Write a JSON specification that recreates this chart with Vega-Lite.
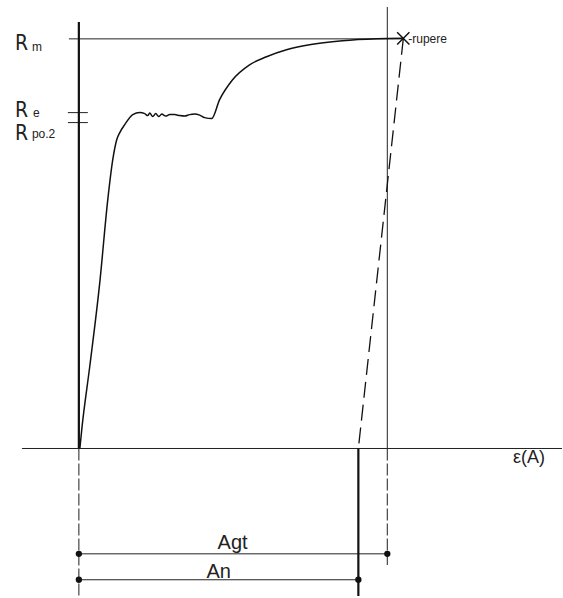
{
  "$schema": "https://vega.github.io/schema/vega-lite/v6.json",
  "width": 563,
  "height": 598,
  "padding": 0,
  "autosize": {"type": "fit", "contains": "padding"},
  "background": "white",
  "config": {"view": {"stroke": null}},
  "datasets": {
    "curve": [
      {"i": 0, "x": 0.1, "y": 0},
      {"i": 1, "x": 0.3, "y": 20},
      {"i": 2, "x": 1.1, "y": 83},
      {"i": 3, "x": 2.1, "y": 167},
      {"i": 4, "x": 2.9, "y": 250},
      {"i": 5, "x": 3.4, "y": 290},
      {"i": 6, "x": 3.8, "y": 310},
      {"i": 7, "x": 4.1, "y": 317},
      {"i": 8, "x": 4.6, "y": 325},
      {"i": 9, "x": 5.4, "y": 335},
      {"i": 10, "x": 6.1, "y": 337},
      {"i": 11, "x": 6.6, "y": 336},
      {"i": 12, "x": 6.9, "y": 334},
      {"i": 13, "x": 7.1, "y": 336.5},
      {"i": 14, "x": 7.4, "y": 333},
      {"i": 15, "x": 7.7, "y": 336},
      {"i": 16, "x": 8.0, "y": 333},
      {"i": 17, "x": 8.3, "y": 335.5},
      {"i": 18, "x": 8.7, "y": 333.5},
      {"i": 19, "x": 9.1, "y": 335},
      {"i": 20, "x": 9.6, "y": 335},
      {"i": 21, "x": 10.1, "y": 334},
      {"i": 22, "x": 10.6, "y": 333.5},
      {"i": 23, "x": 11.1, "y": 335},
      {"i": 24, "x": 11.6, "y": 335.5},
      {"i": 25, "x": 12.1, "y": 334.5},
      {"i": 26, "x": 12.6, "y": 332},
      {"i": 27, "x": 13.3, "y": 331},
      {"i": 28, "x": 14.1, "y": 350},
      {"i": 29, "x": 15.4, "y": 370},
      {"i": 30, "x": 17.1, "y": 385},
      {"i": 31, "x": 18.8, "y": 393},
      {"i": 32, "x": 20.8, "y": 400},
      {"i": 33, "x": 23.1, "y": 405},
      {"i": 34, "x": 26.4, "y": 409},
      {"i": 35, "x": 29.8, "y": 411},
      {"i": 36, "x": 32.5, "y": 411.5}
    ],
    "segs": [
      {"g": "thick", "x": 0, "y": 428, "x2": 0, "y2": 0},
      {"g": "thick", "x": 28, "y": 0, "x2": 28, "y2": -148},
      {"g": "thin", "x": -5.7, "y": 0, "x2": 48.4, "y2": 0},
      {"g": "thin", "x": -1.0, "y": 411, "x2": 32.5, "y2": 411},
      {"g": "thin", "x": -1.1, "y": 337, "x2": 0.9, "y2": 337},
      {"g": "thin", "x": -1.1, "y": 327, "x2": 0.9, "y2": 327},
      {"g": "thin", "x": 30.9, "y": 443, "x2": 30.9, "y2": 0},
      {"g": "thin", "x": 0, "y": -105.7, "x2": 30.9, "y2": -105.7},
      {"g": "thin", "x": 0, "y": -131.7, "x2": 28, "y2": -131.7},
      {"g": "lowdash", "x": 0, "y": 0, "x2": 0, "y2": -148},
      {"g": "lowdash", "x": 30.9, "y": 0, "x2": 30.9, "y2": -117},
      {"g": "dash", "x": 32.5, "y": 411, "x2": 28, "y2": 0}
    ],
    "dots": [
      {"x": 0, "y": -105.7},
      {"x": 30.9, "y": -105.7},
      {"x": 0, "y": -131.7},
      {"x": 28, "y": -131.7}
    ],
    "rupture": [{"x": 32.5, "y": 411.5}],
    "labels": [
      {"k": "big", "x": -6.4, "y": 400, "t": "R"},
      {"k": "big", "x": -6.4, "y": 333, "t": "R"},
      {"k": "big", "x": -6.4, "y": 310, "t": "R"},
      {"k": "sub", "x": -4.7, "y": 399, "t": "m"},
      {"k": "sub", "x": -4.6, "y": 333, "t": "e"},
      {"k": "sub", "x": -4.7, "y": 312, "t": "po.2"},
      {"k": "small", "x": 33.0, "y": 411, "t": "-rupere"},
      {"k": "mid", "x": 43.5, "y": -15, "t": "ε(A)"},
      {"k": "ctr", "x": 15.4, "y": -101, "t": "Agt"},
      {"k": "ctr", "x": 14.0, "y": -130, "t": "An"}
    ]
  },
  "encoding": {
    "x": {"field": "x", "type": "quantitative", "axis": null, "scale": {"domain": [-7.9, 48.4], "nice": false, "zero": false}},
    "y": {"field": "y", "type": "quantitative", "axis": null, "scale": {"domain": [-148, 450], "nice": false, "zero": false}}
  },
  "layer": [
    {
      "data": {"name": "segs"},
      "transform": [{"filter": "datum.g === 'thin'"}],
      "mark": {"type": "rule", "color": "#222", "strokeWidth": 1},
      "encoding": {"x2": {"field": "x2"}, "y2": {"field": "y2"}}
    },
    {
      "data": {"name": "segs"},
      "transform": [{"filter": "datum.g === 'thick'"}],
      "mark": {"type": "rule", "color": "#111", "strokeWidth": 2.2},
      "encoding": {"x2": {"field": "x2"}, "y2": {"field": "y2"}}
    },
    {
      "data": {"name": "segs"},
      "transform": [{"filter": "datum.g === 'lowdash'"}],
      "mark": {"type": "rule", "color": "#333", "strokeWidth": 1.1, "strokeDash": [12, 3]},
      "encoding": {"x2": {"field": "x2"}, "y2": {"field": "y2"}}
    },
    {
      "data": {"name": "segs"},
      "transform": [{"filter": "datum.g === 'dash'"}],
      "mark": {"type": "rule", "color": "#111", "strokeWidth": 1.3, "strokeDash": [16, 7]},
      "encoding": {"x2": {"field": "x2"}, "y2": {"field": "y2"}}
    },
    {
      "data": {"name": "curve"},
      "mark": {"type": "line", "color": "#111", "strokeWidth": 1.5, "interpolate": "monotone"},
      "encoding": {"order": {"field": "i", "type": "quantitative"}}
    },
    {
      "data": {"name": "dots"},
      "mark": {"type": "point", "filled": true, "color": "#111", "size": 40, "opacity": 1}
    },
    {
      "data": {"name": "rupture"},
      "mark": {"type": "point", "shape": "M-1,-1L1,1M1,-1L-1,1", "filled": false, "color": "#111", "strokeWidth": 1.5, "size": 150, "opacity": 1}
    },
    {
      "data": {"name": "labels"},
      "transform": [{"filter": "datum.k === 'big'"}],
      "mark": {"type": "text", "align": "left", "baseline": "alphabetic", "font": "Liberation Sans Narrow, DejaVu Sans Condensed, Liberation Sans", "fontSize": 21, "color": "#222"},
      "encoding": {"text": {"field": "t"}}
    },
    {
      "data": {"name": "labels"},
      "transform": [{"filter": "datum.k === 'sub'"}],
      "mark": {"type": "text", "align": "left", "baseline": "alphabetic", "font": "Liberation Sans", "fontSize": 12, "color": "#222"},
      "encoding": {"text": {"field": "t"}}
    },
    {
      "data": {"name": "labels"},
      "transform": [{"filter": "datum.k === 'small'"}],
      "mark": {"type": "text", "align": "left", "baseline": "middle", "font": "Liberation Sans", "fontSize": 12, "color": "#222"},
      "encoding": {"text": {"field": "t"}}
    },
    {
      "data": {"name": "labels"},
      "transform": [{"filter": "datum.k === 'mid'"}],
      "mark": {"type": "text", "align": "left", "baseline": "alphabetic", "font": "Liberation Sans", "fontSize": 18, "color": "#222"},
      "encoding": {"text": {"field": "t"}}
    },
    {
      "data": {"name": "labels"},
      "transform": [{"filter": "datum.k === 'ctr'"}],
      "mark": {"type": "text", "align": "center", "baseline": "alphabetic", "font": "Liberation Sans", "fontSize": 20, "color": "#222"},
      "encoding": {"text": {"field": "t"}}
    }
  ]
}
